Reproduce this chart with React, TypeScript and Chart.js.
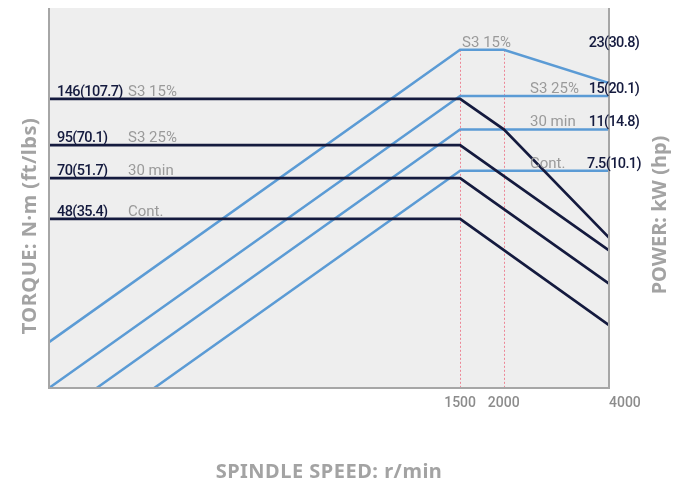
import React, { useEffect, useRef } from "react";
import { Chart, registerables } from "chart.js";

Chart.register(...registerables);

// Spindle speed (r/min), log axis
const speeds = [100, 1500, 2000, 4000];
const xTickValues = [1500, 2000, 4000];

// Duty labels
const dutyLabels = ["S3 15%", "S3 25%", "30 min", "Cont."];
const torqueLabels = ["146(107.7)", "95(70.1)", "70(51.7)", "48(35.4)"];
const powerLabels = ["23(30.8)", "15(20.1)", "11(14.8)", "7.5(10.1)"];
const torqueLevels = [146, 95, 70, 48];
const powerLevels = [23, 15, 11, 7.5];

// Torque curves (N·m) at speeds[] (null = no point)
const torqueS3_15 = [146, 146, 110, 40.3];
const torqueS3_25 = [95, 95, null, 35.8];
const torque30min = [70, 70, null, 26.3];
const torqueCont = [48, 48, null, 17.9];

// Power curves (kW) at speeds[]
const powerS3_15 = [1.53, 23, 23, 16.9];
const powerS3_25 = [1.0, 15, null, 15];
const power30min = [0.73, 11, null, 11];
const powerCont = [0.5, 7.5, null, 7.5];

const NAVY = "#141a3e";
const BLUE = "#5b9bd5";
const GRAY_TXT = "#9a9a9a";
const LBL_FONT = 'Roboto, "Noto Sans", sans-serif';
const TITLE_FONT = '"Noto Sans", "Open Sans", sans-serif';

function pts(vals: (number | null)[]) {
  const out: { x: number; y: number }[] = [];
  vals.forEach((v, i) => {
    if (v !== null) out.push({ x: speeds[i], y: v });
  });
  return out;
}

function setSpacing(ctx: any, s: string) {
  try {
    ctx.letterSpacing = s;
  } catch (e) {}
}

const decorPlugin = {
  id: "decor",
  beforeDraw(chart: any) {
    const { ctx, chartArea } = chart;
    const { left, top, right, bottom } = chartArea;
    ctx.save();
    ctx.fillStyle = "#eeeeee";
    ctx.fillRect(left, top, right - left, bottom - top);
    // dotted verticals
    const xs = chart.scales.x;
    const yP = chart.scales.yP;
    ctx.strokeStyle = "rgba(236,100,120,0.75)";
    ctx.lineWidth = 1;
    ctx.setLineDash([2, 2]);
    [1500, 2000].forEach((v) => {
      const px = Math.round(xs.getPixelForValue(v)) + 0.5;
      ctx.beginPath();
      ctx.moveTo(px, yP.getPixelForValue(powerLevels[0]));
      ctx.lineTo(px, bottom);
      ctx.stroke();
    });
    ctx.restore();
  },
  afterDatasetsDraw(chart: any) {
    const { ctx, chartArea } = chart;
    const { left, top, right, bottom } = chartArea;
    const xs = chart.scales.x;
    const yT = chart.scales.yT;
    const yP = chart.scales.yP;
    ctx.save();
    // frame: left, bottom, right
    ctx.strokeStyle = "#a6a6a6";
    ctx.lineWidth = 2;
    ctx.beginPath();
    ctx.moveTo(left, top);
    ctx.lineTo(left, bottom);
    ctx.lineTo(right, bottom);
    ctx.lineTo(right, top);
    ctx.stroke();

    ctx.textBaseline = "alphabetic";
    // torque labels
    torqueLabels.forEach((t, i) => {
      const y = yT.getPixelForValue(torqueLevels[i]) - 3;
      ctx.font = `500 14.5px ${LBL_FONT}`;
      setSpacing(ctx, "-0.6px");
      ctx.fillStyle = NAVY;
      ctx.textAlign = "left";
      ctx.fillText(t, left + 8, y);
      ctx.font = `15px ${LBL_FONT}`;
      setSpacing(ctx, "0px");
      ctx.fillStyle = GRAY_TXT;
      ctx.fillText(dutyLabels[i], left + 79, y);
    });
    // power labels
    powerLabels.forEach((t, i) => {
      const y = yP.getPixelForValue(powerLevels[i]) - 3;
      ctx.font = `500 14.5px ${LBL_FONT}`;
      setSpacing(ctx, "-0.6px");
      ctx.fillStyle = NAVY;
      ctx.textAlign = "center";
      ctx.fillText(t, right + 5, y);
      ctx.font = `15px ${LBL_FONT}`;
      setSpacing(ctx, "0px");
      ctx.fillStyle = GRAY_TXT;
      ctx.textAlign = "left";
      const gx = i === 0 ? xs.getPixelForValue(1500) + 2 : right - 79;
      ctx.fillText(dutyLabels[i], gx, y);
    });

    // x tick labels
    ctx.font = `500 14px ${LBL_FONT}`;
    setSpacing(ctx, "0px");
    ctx.fillStyle = "#8c8c8c";
    xTickValues.forEach((v, i) => {
      const px = xs.getPixelForValue(v);
      ctx.textAlign = i === xTickValues.length - 1 ? "left" : "center";
      ctx.fillText(String(v), px, bottom + 19);
    });

    // axis titles
    ctx.font = `bold 20px ${TITLE_FONT}`;
    ctx.fillStyle = "#a3a3a3";
    ctx.textAlign = "center";
    setSpacing(ctx, "0.5px");
    ctx.fillText("SPINDLE SPEED: r/min", (left + right) / 2, bottom + 90);

    ctx.save();
    ctx.translate(36, 226);
    ctx.rotate(-Math.PI / 2);
    ctx.fillText("TORQUE: N·m (ft/lbs)", 0, 0);
    ctx.restore();

    ctx.save();
    ctx.translate(666, 215);
    ctx.rotate(-Math.PI / 2);
    setSpacing(ctx, "0px");
    ctx.fillText("POWER: kW (hp)", 0, 0);
    ctx.restore();

    ctx.restore();
  },
};

export default function App() {
  const ref = useRef<HTMLCanvasElement | null>(null);
  useEffect(() => {
    if (!ref.current) return;
    const torqueSets = [torqueS3_15, torqueS3_25, torque30min, torqueCont];
    const powerSets = [powerS3_15, powerS3_25, power30min, powerCont];
    const datasets: any[] = [];
    torqueSets.forEach((s, i) =>
      datasets.push({
        label: "Torque " + dutyLabels[i],
        data: pts(s),
        yAxisID: "yT",
        borderColor: NAVY,
        borderWidth: 2.7,
        pointRadius: 0,
        tension: 0,
        fill: false,
      })
    );
    powerSets.forEach((s, i) =>
      datasets.push({
        label: "Power " + dutyLabels[i],
        data: pts(s),
        yAxisID: "yP",
        borderColor: BLUE,
        borderWidth: 2.5,
        pointRadius: 0,
        tension: 0,
        fill: false,
      })
    );
    const chart = new Chart(ref.current, {
      type: "line",
      data: { datasets },
      options: {
        animation: false,
        responsive: true,
        maintainAspectRatio: false,
        layout: { padding: { left: 49, right: 72, top: 8, bottom: 99 } },
        plugins: { legend: { display: false }, tooltip: { enabled: false } },
        scales: {
          x: { type: "logarithmic", min: 100, max: 4000, display: false, bounds: "data" },
          yT: { type: "logarithmic", position: "left", min: 10, max: 339, display: false },
          yP: { type: "logarithmic", position: "right", min: 1, max: 33.9, display: false },
        },
      } as any,
      plugins: [decorPlugin],
    });
    return () => chart.destroy();
  }, []);
  return (
    <div style={{ position: "fixed", left: 0, top: 0, width: 681, height: 487, background: "#fff" }}>
      <canvas ref={ref} />
    </div>
  );
}
